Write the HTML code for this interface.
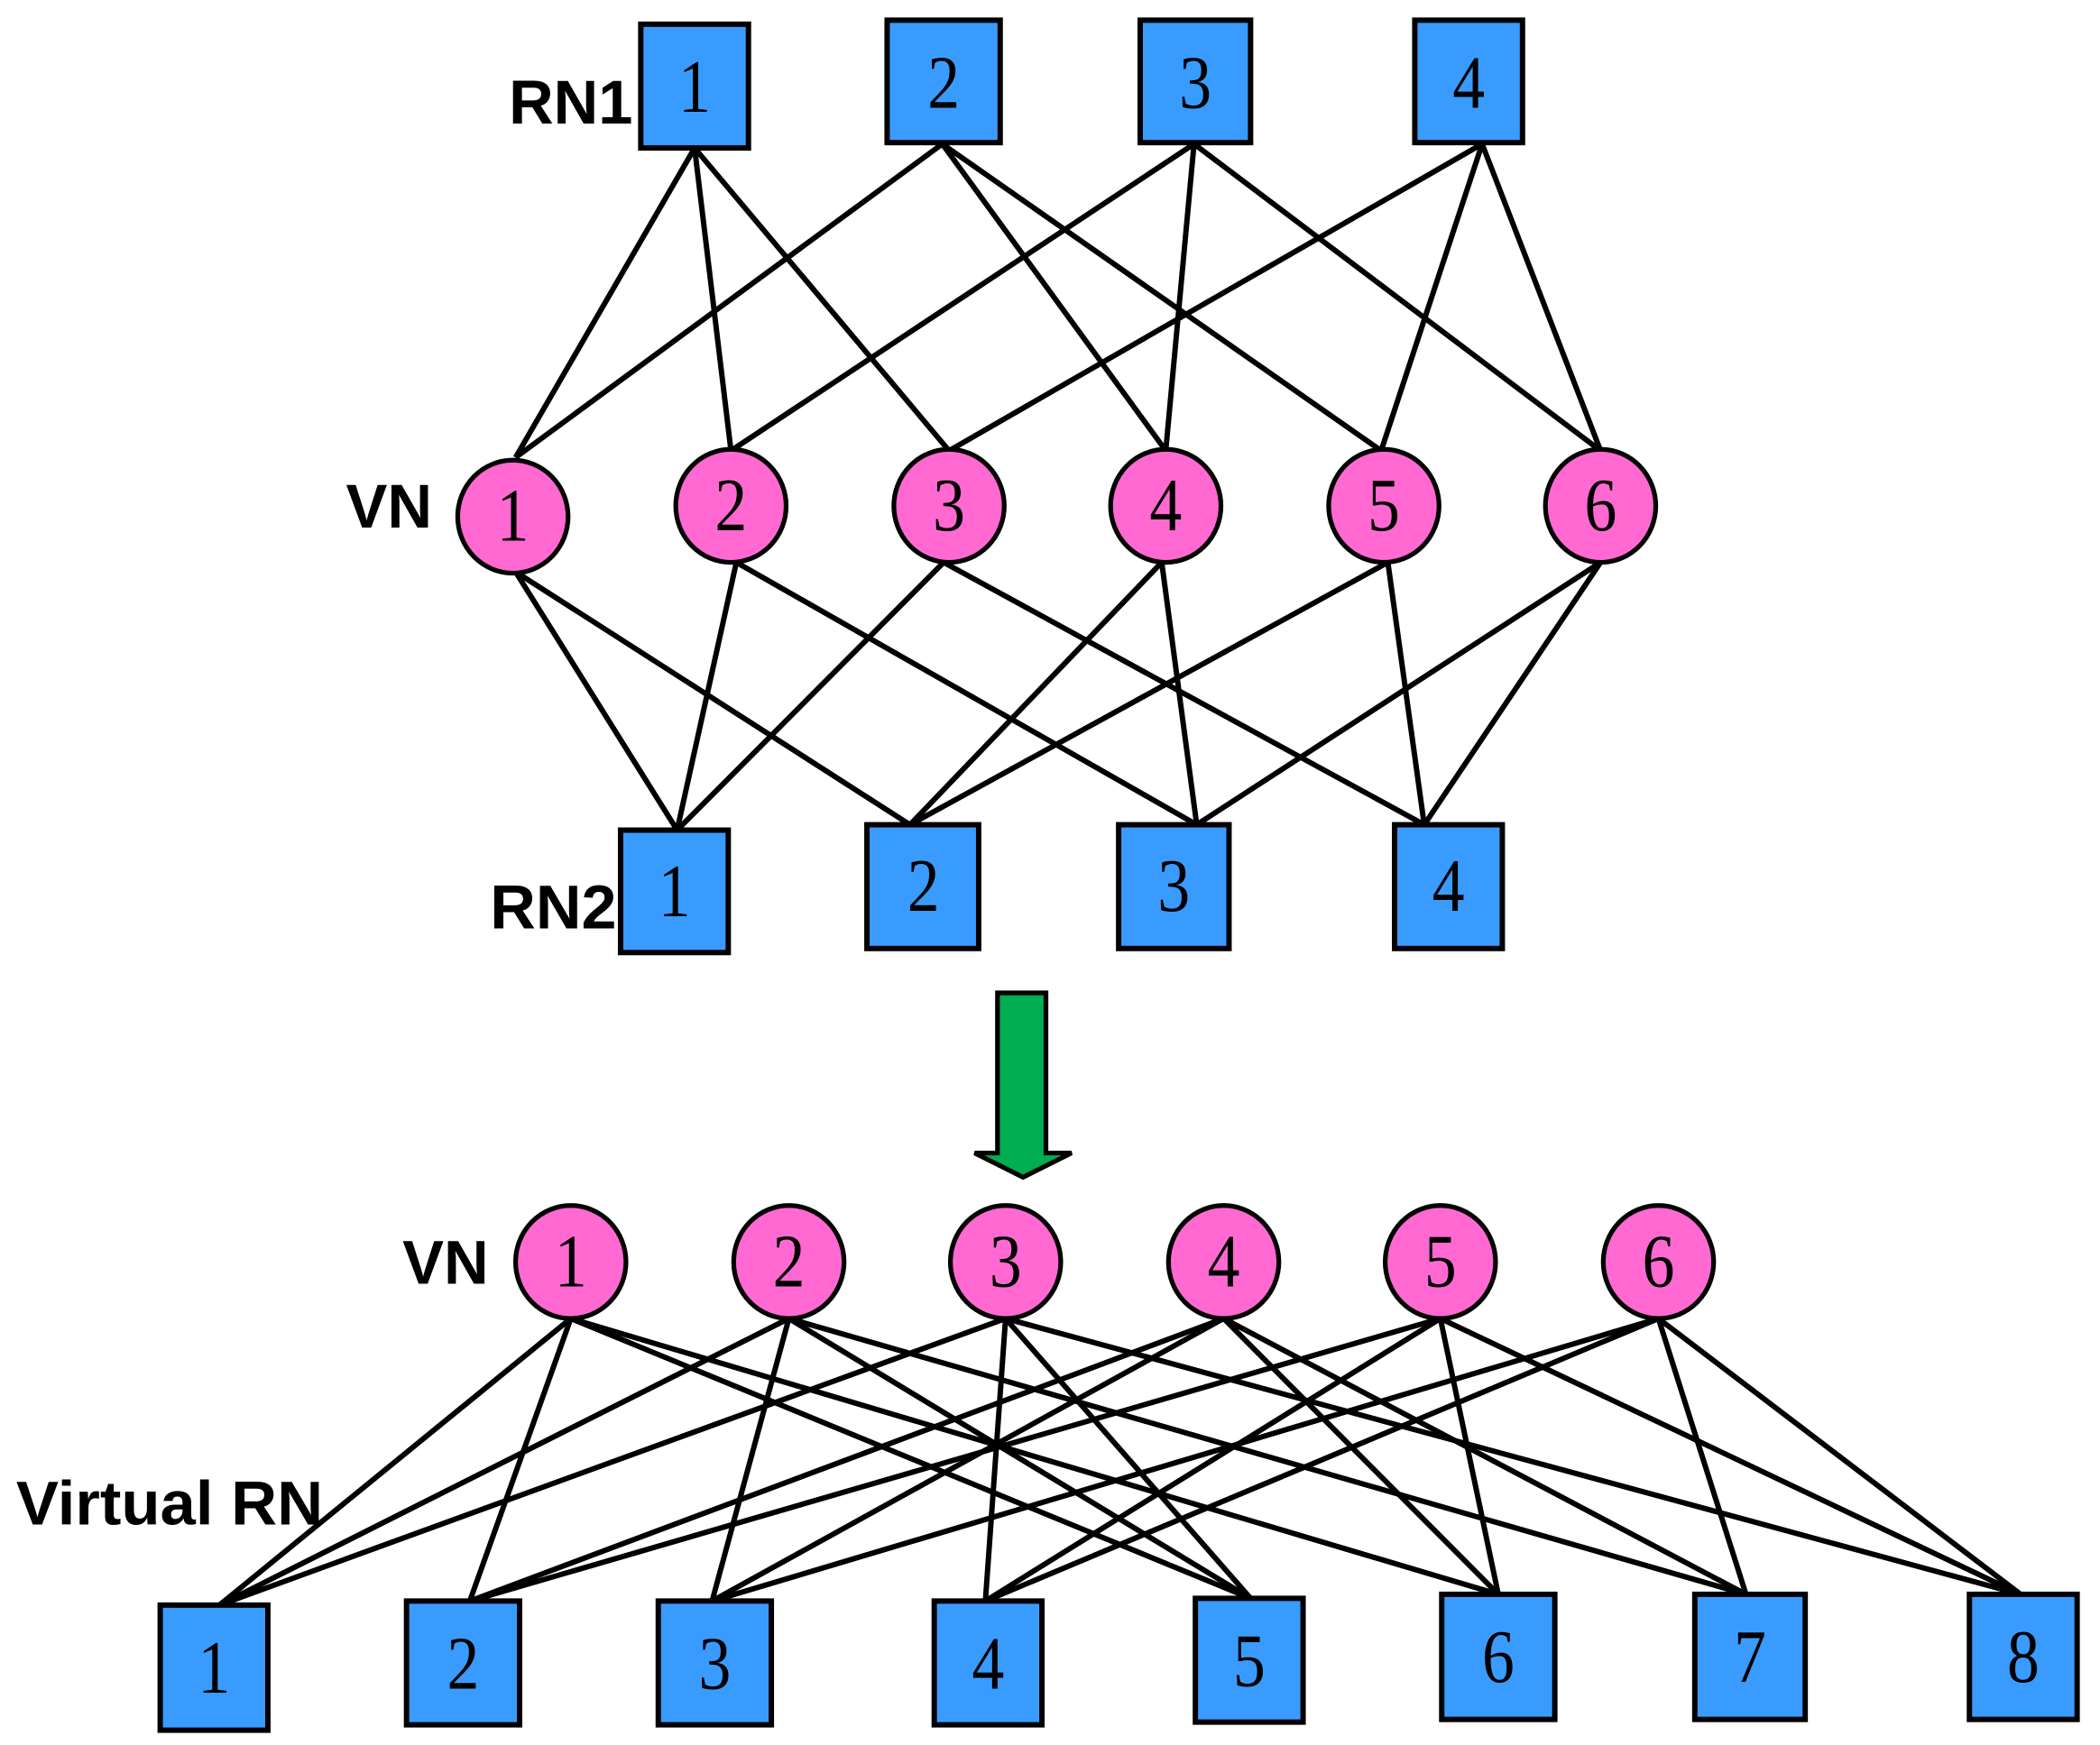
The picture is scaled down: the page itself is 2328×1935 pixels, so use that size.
<!DOCTYPE html>
<html><head><meta charset="utf-8"><style>
html,body{margin:0;padding:0;background:#fff;}
svg{display:block;}
.l{stroke:#000;stroke-width:4;fill:none;}
.b{fill:#3a9bff;stroke:#000;stroke-width:4;}
.c{fill:#ff69d1;stroke:#000;stroke-width:3.5;}
.n{font-family:"Liberation Serif",serif;font-size:56px;text-anchor:middle;fill:#000;}
.t{font-family:"Liberation Sans",sans-serif;font-weight:bold;font-size:46px;fill:#000;}
</style></head><body>
<svg width="2328" height="1935" viewBox="0 0 1560 1297" preserveAspectRatio="none" xmlns="http://www.w3.org/2000/svg">
<g class="l">
<line x1="516" y1="110" x2="383" y2="340"/><line x1="516" y1="110" x2="543" y2="335"/><line x1="516" y1="110" x2="705" y2="335"/>
<line x1="700" y1="107" x2="383" y2="340"/><line x1="700" y1="107" x2="866" y2="335"/><line x1="700" y1="107" x2="1026" y2="335"/>
<line x1="887" y1="107" x2="543" y2="335"/><line x1="887" y1="107" x2="866" y2="335"/><line x1="887" y1="107" x2="1189" y2="335"/>
<line x1="1101" y1="107" x2="705" y2="335"/><line x1="1101" y1="107" x2="1026" y2="335"/><line x1="1101" y1="107" x2="1189" y2="335"/>
<line x1="383" y1="425" x2="503" y2="617"/><line x1="383" y1="425" x2="676" y2="613"/>
<line x1="547" y1="418" x2="503" y2="617"/><line x1="547" y1="418" x2="889" y2="613"/>
<line x1="701" y1="418" x2="503" y2="617"/><line x1="701" y1="418" x2="1058" y2="613"/>
<line x1="863" y1="418" x2="676" y2="613"/><line x1="863" y1="418" x2="889" y2="613"/>
<line x1="1031" y1="418" x2="676" y2="613"/><line x1="1031" y1="418" x2="1058" y2="613"/>
<line x1="1189" y1="418" x2="889" y2="613"/><line x1="1189" y1="418" x2="1058" y2="613"/>
</g>
<g class="l">
<line x1="424" y1="980" x2="163" y2="1193"/><line x1="586" y1="980" x2="163" y2="1193"/><line x1="747" y1="980" x2="163" y2="1193"/>
<line x1="424" y1="980" x2="349" y2="1190"/><line x1="909" y1="980" x2="349" y2="1190"/><line x1="1070" y1="980" x2="349" y2="1190"/>
<line x1="586" y1="980" x2="529" y2="1190"/><line x1="909" y1="980" x2="529" y2="1190"/><line x1="1232" y1="980" x2="529" y2="1190"/>
<line x1="747" y1="980" x2="732" y2="1190"/><line x1="1070" y1="980" x2="732" y2="1190"/><line x1="1232" y1="980" x2="732" y2="1190"/>
<line x1="424" y1="980" x2="929" y2="1188"/><line x1="586" y1="980" x2="929" y2="1188"/><line x1="747" y1="980" x2="929" y2="1188"/>
<line x1="424" y1="980" x2="1113" y2="1185"/><line x1="909" y1="980" x2="1113" y2="1185"/><line x1="1070" y1="980" x2="1113" y2="1185"/>
<line x1="586" y1="980" x2="1297" y2="1185"/><line x1="909" y1="980" x2="1297" y2="1185"/><line x1="1232" y1="980" x2="1297" y2="1185"/>
<line x1="747" y1="980" x2="1501" y2="1185"/><line x1="1070" y1="980" x2="1501" y2="1185"/><line x1="1232" y1="980" x2="1501" y2="1185"/>
</g>
<rect class="b" x="476" y="18" width="80" height="92"/><text class="n" x="516" y="83" textLength="24" lengthAdjust="spacingAndGlyphs">1</text>
<rect class="b" x="659" y="15" width="84" height="91"/><text class="n" x="701" y="80" textLength="24" lengthAdjust="spacingAndGlyphs">2</text>
<rect class="b" x="847" y="15" width="82" height="91"/><text class="n" x="888" y="80" textLength="24" lengthAdjust="spacingAndGlyphs">3</text>
<rect class="b" x="1051" y="15" width="80" height="91"/><text class="n" x="1091" y="80" textLength="24" lengthAdjust="spacingAndGlyphs">4</text>
<ellipse class="c" cx="381" cy="384" rx="41" ry="42"/><text class="n" x="381" y="402" textLength="24" lengthAdjust="spacingAndGlyphs">1</text>
<ellipse class="c" cx="543" cy="376" rx="41" ry="42"/><text class="n" x="543" y="394" textLength="24" lengthAdjust="spacingAndGlyphs">2</text>
<ellipse class="c" cx="705" cy="376" rx="41" ry="42"/><text class="n" x="705" y="394" textLength="24" lengthAdjust="spacingAndGlyphs">3</text>
<ellipse class="c" cx="866" cy="376" rx="41" ry="42"/><text class="n" x="866" y="394" textLength="24" lengthAdjust="spacingAndGlyphs">4</text>
<ellipse class="c" cx="1028" cy="376" rx="41" ry="42"/><text class="n" x="1028" y="394" textLength="24" lengthAdjust="spacingAndGlyphs">5</text>
<ellipse class="c" cx="1189" cy="376" rx="41" ry="42"/><text class="n" x="1189" y="394" textLength="24" lengthAdjust="spacingAndGlyphs">6</text>
<rect class="b" x="461" y="617" width="80" height="91"/><text class="n" x="501" y="681" textLength="24" lengthAdjust="spacingAndGlyphs">1</text>
<rect class="b" x="644" y="613" width="83" height="92"/><text class="n" x="686" y="677" textLength="24" lengthAdjust="spacingAndGlyphs">2</text>
<rect class="b" x="831" y="613" width="82" height="92"/><text class="n" x="872" y="677" textLength="24" lengthAdjust="spacingAndGlyphs">3</text>
<rect class="b" x="1036" y="613" width="80" height="92"/><text class="n" x="1076" y="677" textLength="24" lengthAdjust="spacingAndGlyphs">4</text>
<text class="t" x="378" y="92" textLength="92" lengthAdjust="spacingAndGlyphs">RN1</text>
<text class="t" x="257" y="392" textLength="64" lengthAdjust="spacingAndGlyphs">VN</text>
<text class="t" x="364" y="690" textLength="94" lengthAdjust="spacingAndGlyphs">RN2</text>
<text class="t" x="299" y="954" textLength="64" lengthAdjust="spacingAndGlyphs">VN</text>
<text class="t" x="12" y="1133" textLength="228" lengthAdjust="spacingAndGlyphs">Virtual RN</text>
<polygon points="741,738 777,738 777,857 796,857 760,875 724,857 741,857" fill="#00ad50" stroke="#000" stroke-width="3.5"/>
<ellipse class="c" cx="424" cy="938" rx="41" ry="42"/><text class="n" x="424" y="956" textLength="24" lengthAdjust="spacingAndGlyphs">1</text>
<ellipse class="c" cx="586" cy="938" rx="41" ry="42"/><text class="n" x="586" y="956" textLength="24" lengthAdjust="spacingAndGlyphs">2</text>
<ellipse class="c" cx="747" cy="938" rx="41" ry="42"/><text class="n" x="747" y="956" textLength="24" lengthAdjust="spacingAndGlyphs">3</text>
<ellipse class="c" cx="909" cy="938" rx="41" ry="42"/><text class="n" x="909" y="956" textLength="24" lengthAdjust="spacingAndGlyphs">4</text>
<ellipse class="c" cx="1070" cy="938" rx="41" ry="42"/><text class="n" x="1070" y="956" textLength="24" lengthAdjust="spacingAndGlyphs">5</text>
<ellipse class="c" cx="1232" cy="938" rx="41" ry="42"/><text class="n" x="1232" y="956" textLength="24" lengthAdjust="spacingAndGlyphs">6</text>
<rect class="b" x="119" y="1193" width="80" height="93"/><text class="n" x="159" y="1258" textLength="24" lengthAdjust="spacingAndGlyphs">1</text>
<rect class="b" x="302" y="1190" width="84" height="92"/><text class="n" x="344" y="1255" textLength="24" lengthAdjust="spacingAndGlyphs">2</text>
<rect class="b" x="489" y="1190" width="84" height="92"/><text class="n" x="531" y="1255" textLength="24" lengthAdjust="spacingAndGlyphs">3</text>
<rect class="b" x="694" y="1190" width="80" height="92"/><text class="n" x="734" y="1255" textLength="24" lengthAdjust="spacingAndGlyphs">4</text>
<rect class="b" x="888" y="1188" width="80" height="92"/><text class="n" x="928" y="1253" textLength="24" lengthAdjust="spacingAndGlyphs">5</text>
<rect class="b" x="1071" y="1185" width="84" height="93"/><text class="n" x="1113" y="1250" textLength="24" lengthAdjust="spacingAndGlyphs">6</text>
<rect class="b" x="1259" y="1185" width="82" height="93"/><text class="n" x="1300" y="1250" textLength="24" lengthAdjust="spacingAndGlyphs">7</text>
<rect class="b" x="1463" y="1185" width="80" height="93"/><text class="n" x="1503" y="1250" textLength="24" lengthAdjust="spacingAndGlyphs">8</text>
</svg>
</body></html>
